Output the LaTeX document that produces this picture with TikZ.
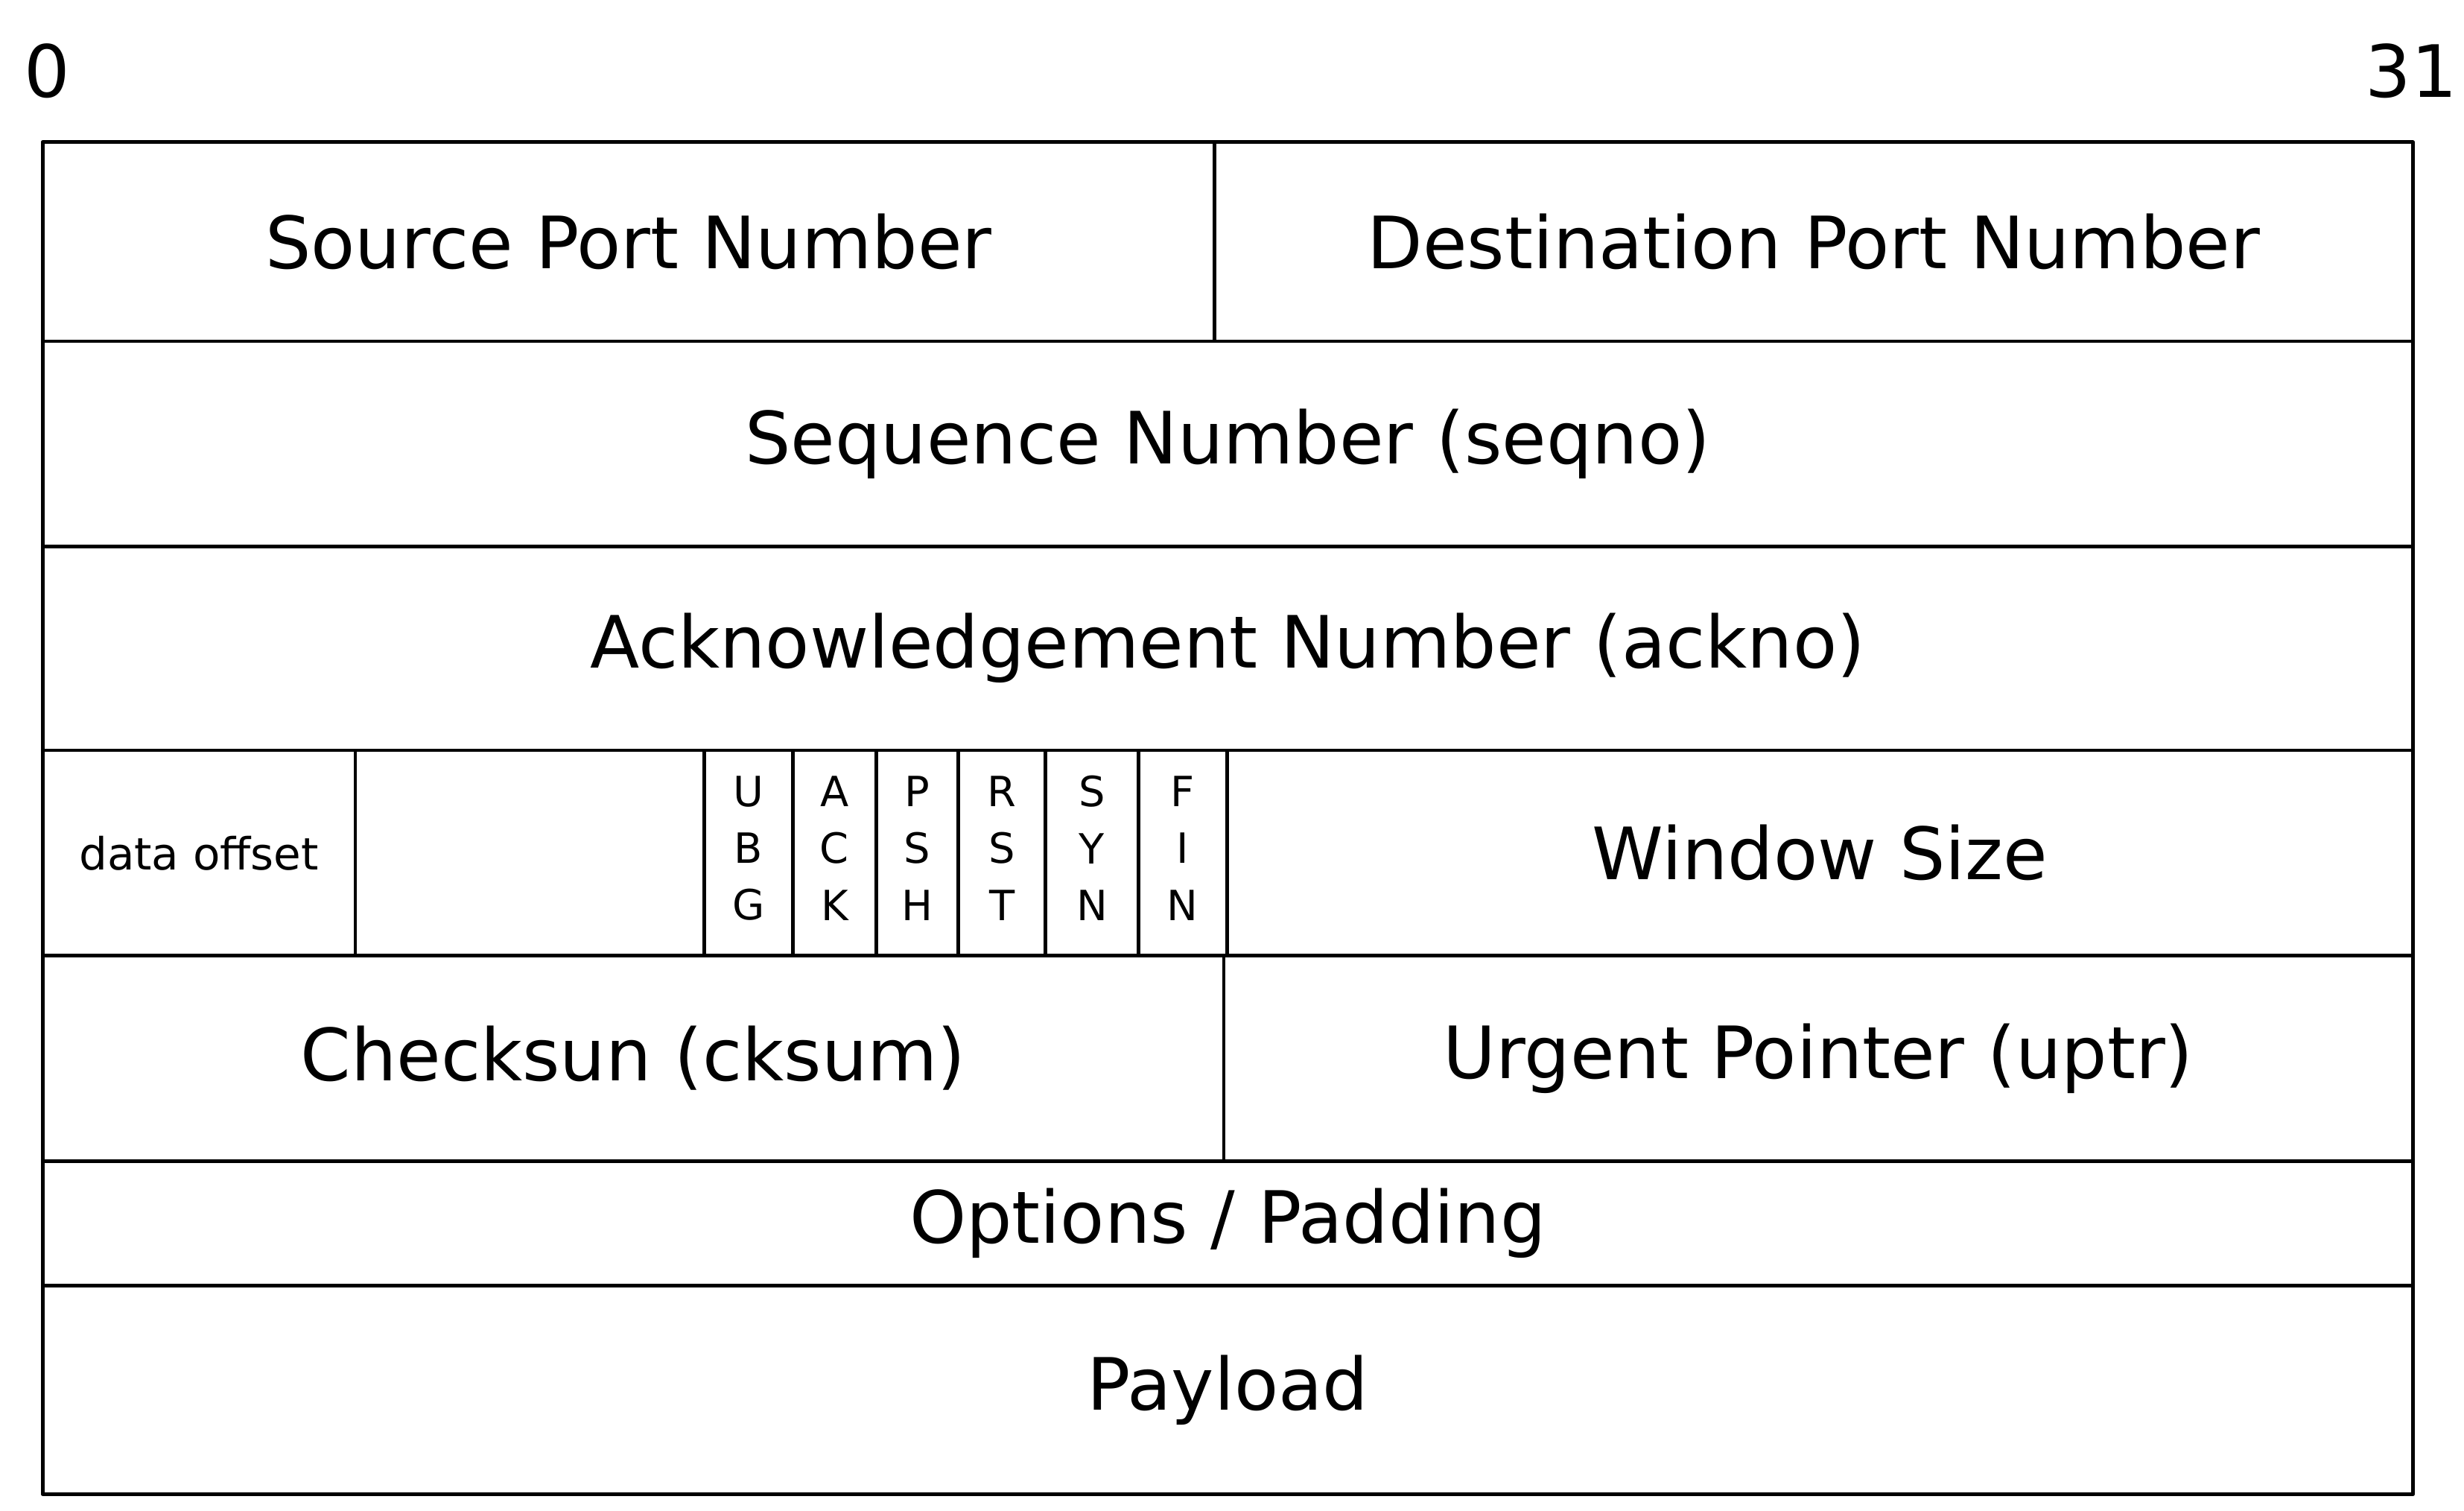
\documentclass[tikz,border=0pt]{standalone}
\usepackage{fontspec}
\setmainfont{DejaVu Sans}
\newcommand{\field}[6]{\draw[fieldline] (#2,#3) rectangle (#4,#5);
	\path (#2,#3) -- (#4,#5) node[midway, fieldtext] (#1) {#6};}

\begin{document}
\begin{tikzpicture}[x=0.2mm, y=-0.2mm,
		fieldline/.style={line width=1.3pt, line join=round},
		fieldtext/.style={font=\fontsize{26}{31}\selectfont, inner sep=0pt},
		small/.style={font=\fontsize{16}{19}\selectfont},
		flag/.style={font=\fontsize{15}{20.5}\selectfont, align=center, inner sep=0pt}]
	\useasboundingbox (0,0) rectangle (1560.4,956.2);
	\node[fieldtext] (b0) at (30,45) {0};
	\node[fieldtext] (b31) at (1527,45) {31};
	\field{src}{27}{90}{769}{216}{Source Port Number}
	\field{dst}{769}{90}{1528}{216}{Destination Port Number}
	\field{seq}{27}{216}{1528}{346}{Sequence Number (seqno)}
	\field{ack}{27}{346}{1528}{475}{Acknowledgement Number (ackno)}
	\field{off}{27}{475}{225}{605}{}
	\node[small] (offtext) at (off) {data offset};
	\field{res}{225}{475}{446}{605}{}
	\field{urg}{446}{475}{502}{605}{}
	\field{ackf}{502}{475}{555}{605}{}
	\field{psh}{555}{475}{607}{605}{}
	\field{rst}{607}{475}{662}{605}{}
	\field{syn}{662}{475}{721}{605}{}
	\field{fin}{721}{475}{777}{605}{}
	\node[flag] at ([yshift=0.6mm]urg) {U\\B\\G};
	\node[flag] at ([yshift=0.6mm]ackf) {A\\C\\K};
	\node[flag] at ([yshift=0.6mm]psh) {P\\S\\H};
	\node[flag] at ([yshift=0.6mm]rst) {R\\S\\T};
	\node[flag] at ([yshift=0.6mm]syn) {S\\Y\\N};
	\node[flag] at ([yshift=0.6mm]fin) {F\\I\\N};
	\field{win}{777}{475}{1528}{605}{Window Size}
	\field{cks}{27}{605}{775}{735}{Checksun (cksum)}
	\field{uptr}{775}{605}{1528}{735}{Urgent Pointer (uptr)}
	\field{opt}{27}{735}{1528}{814}{Options / Padding}
	\field{pay}{27}{814}{1528}{946}{Payload}
\end{tikzpicture}
\end{document}
